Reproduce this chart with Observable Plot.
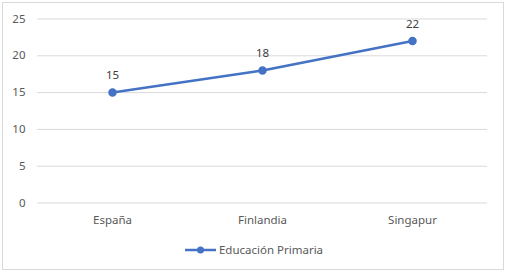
<!DOCTYPE html>
<html><head><meta charset="utf-8">
<script src="https://cdn.jsdelivr.net/npm/d3@7"></script>
<script src="https://cdn.jsdelivr.net/npm/@observablehq/plot@0.6"></script>
<style>
body{margin:0;background:#fff;font-family:"Noto Sans",sans-serif;}
#frame{position:absolute;left:2px;top:2px;width:502px;height:268px;box-sizing:border-box;border:1px solid #d9d9d9;pointer-events:none;}
#chart{position:absolute;left:0;top:0;}
#legend{position:absolute;left:0;top:242px;width:507px;display:flex;justify-content:center;align-items:center;font-size:11.5px;color:#595959;}
</style></head>
<body>
<div id="chart"></div>
<div id="legend"></div>
<div id="frame"></div>
<script>
const countries = ["España", "Finlandia", "Singapur"];
const primaria = [15, 18, 22];
const yTicks = [0, 5, 10, 15, 20, 25];
const seriesName = "Educación Primaria";
const color = "#4472C4";

const data = countries.map((c, i) => ({pais: c, valor: primaria[i]}));

const plot = Plot.plot({
  width: 507,
  height: 235,
  marginTop: 18.5,
  marginBottom: 32.5,
  marginLeft: 37,
  marginRight: 20,
  style: {fontFamily: "'Noto Sans', sans-serif", fontSize: "11.5px", color: "#595959", background: "transparent"},
  x: {type: "band", domain: countries, padding: 0, label: null},
  y: {domain: [0, 25], label: null},
  marks: [
    Plot.gridY(yTicks, {stroke: "#d9d9d9", strokeOpacity: 1, strokeWidth: 1}),
    Plot.axisY(yTicks, {tickSize: 0, tickPadding: 12, label: null, fill: "#595959", fontSize: 11.5}),
    Plot.axisX({tickSize: 0, tickPadding: 13, label: null, fill: "#595959", fontSize: 11.5}),
    Plot.line(data, {x: "pais", y: "valor", stroke: color, strokeWidth: 2.5}),
    Plot.dot(data, {x: "pais", y: "valor", r: 3.5, fill: color, stroke: color}),
    Plot.text(data, {x: "pais", y: "valor", text: d => String(d.valor), dy: -17, fill: "#404040", fontSize: 11.5})
  ]
});
document.getElementById("chart").appendChild(plot);

const legend = document.getElementById("legend");
legend.innerHTML = `<svg width="33" height="10" style="margin-right:2px"><line x1="1" x2="32" y1="5" y2="5" stroke="${color}" stroke-width="2.5"/><circle cx="16.5" cy="5" r="3.5" fill="${color}"/></svg><span>${seriesName}</span>`;
</script>
</body></html>
